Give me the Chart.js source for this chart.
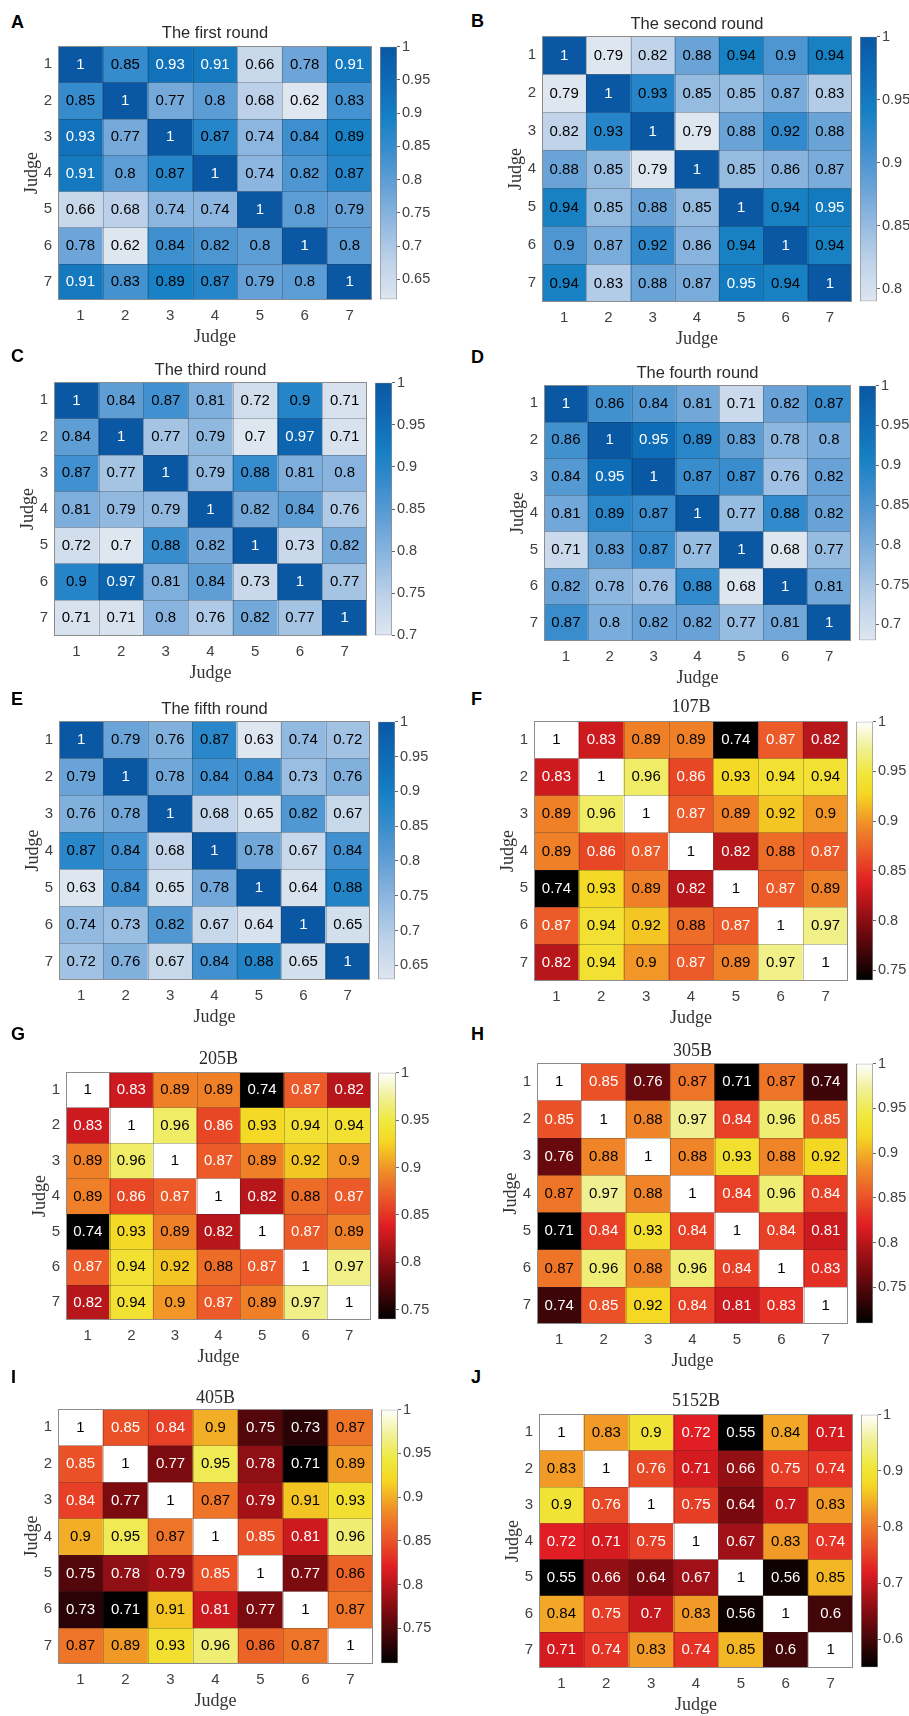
<!DOCTYPE html>
<html><head><meta charset="utf-8">
<script src="https://cdn.jsdelivr.net/npm/chart.js@4.4.1/dist/chart.umd.min.js"></script>
<style>
html,body{margin:0;padding:0;background:#fff;}
#page{position:relative;width:909px;height:1716px;overflow:hidden;background:#fff;}
#page canvas{position:absolute;}
.lbl{position:absolute;font:bold 18px "Liberation Sans",Arial,sans-serif;line-height:18px;color:#000;}
</style></head><body><div id="page"></div>
<script>
// ---------------- data ----------------
const judges = ['1','2','3','4','5','6','7'];

const round1 = [
  [1,0.85,0.93,0.91,0.66,0.78,0.91],
  [0.85,1,0.77,0.8,0.68,0.62,0.83],
  [0.93,0.77,1,0.87,0.74,0.84,0.89],
  [0.91,0.8,0.87,1,0.74,0.82,0.87],
  [0.66,0.68,0.74,0.74,1,0.8,0.79],
  [0.78,0.62,0.84,0.82,0.8,1,0.8],
  [0.91,0.83,0.89,0.87,0.79,0.8,1]
];
const round2 = [
  [1,0.79,0.82,0.88,0.94,0.9,0.94],
  [0.79,1,0.93,0.85,0.85,0.87,0.83],
  [0.82,0.93,1,0.79,0.88,0.92,0.88],
  [0.88,0.85,0.79,1,0.85,0.86,0.87],
  [0.94,0.85,0.88,0.85,1,0.94,0.95],
  [0.9,0.87,0.92,0.86,0.94,1,0.94],
  [0.94,0.83,0.88,0.87,0.95,0.94,1]
];
const round3 = [
  [1,0.84,0.87,0.81,0.72,0.9,0.71],
  [0.84,1,0.77,0.79,0.7,0.97,0.71],
  [0.87,0.77,1,0.79,0.88,0.81,0.8],
  [0.81,0.79,0.79,1,0.82,0.84,0.76],
  [0.72,0.7,0.88,0.82,1,0.73,0.82],
  [0.9,0.97,0.81,0.84,0.73,1,0.77],
  [0.71,0.71,0.8,0.76,0.82,0.77,1]
];
const round4 = [
  [1,0.86,0.84,0.81,0.71,0.82,0.87],
  [0.86,1,0.95,0.89,0.83,0.78,0.8],
  [0.84,0.95,1,0.87,0.87,0.76,0.82],
  [0.81,0.89,0.87,1,0.77,0.88,0.82],
  [0.71,0.83,0.87,0.77,1,0.68,0.77],
  [0.82,0.78,0.76,0.88,0.68,1,0.81],
  [0.87,0.8,0.82,0.82,0.77,0.81,1]
];
const round5 = [
  [1,0.79,0.76,0.87,0.63,0.74,0.72],
  [0.79,1,0.78,0.84,0.84,0.73,0.76],
  [0.76,0.78,1,0.68,0.65,0.82,0.67],
  [0.87,0.84,0.68,1,0.78,0.67,0.84],
  [0.63,0.84,0.65,0.78,1,0.64,0.88],
  [0.74,0.73,0.82,0.67,0.64,1,0.65],
  [0.72,0.76,0.67,0.84,0.88,0.65,1]
];
const s107B = [
  [1,0.83,0.89,0.89,0.74,0.87,0.82],
  [0.83,1,0.96,0.86,0.93,0.94,0.94],
  [0.89,0.96,1,0.87,0.89,0.92,0.9],
  [0.89,0.86,0.87,1,0.82,0.88,0.87],
  [0.74,0.93,0.89,0.82,1,0.87,0.89],
  [0.87,0.94,0.92,0.88,0.87,1,0.97],
  [0.82,0.94,0.9,0.87,0.89,0.97,1]
];
const s205B = [
  [1,0.83,0.89,0.89,0.74,0.87,0.82],
  [0.83,1,0.96,0.86,0.93,0.94,0.94],
  [0.89,0.96,1,0.87,0.89,0.92,0.9],
  [0.89,0.86,0.87,1,0.82,0.88,0.87],
  [0.74,0.93,0.89,0.82,1,0.87,0.89],
  [0.87,0.94,0.92,0.88,0.87,1,0.97],
  [0.82,0.94,0.9,0.87,0.89,0.97,1]
];
const s305B = [
  [1,0.85,0.76,0.87,0.71,0.87,0.74],
  [0.85,1,0.88,0.97,0.84,0.96,0.85],
  [0.76,0.88,1,0.88,0.93,0.88,0.92],
  [0.87,0.97,0.88,1,0.84,0.96,0.84],
  [0.71,0.84,0.93,0.84,1,0.84,0.81],
  [0.87,0.96,0.88,0.96,0.84,1,0.83],
  [0.74,0.85,0.92,0.84,0.81,0.83,1]
];
const s405B = [
  [1,0.85,0.84,0.9,0.75,0.73,0.87],
  [0.85,1,0.77,0.95,0.78,0.71,0.89],
  [0.84,0.77,1,0.87,0.79,0.91,0.93],
  [0.9,0.95,0.87,1,0.85,0.81,0.96],
  [0.75,0.78,0.79,0.85,1,0.77,0.86],
  [0.73,0.71,0.91,0.81,0.77,1,0.87],
  [0.87,0.89,0.93,0.96,0.86,0.87,1]
];
const s5152B = [
  [1,0.83,0.9,0.72,0.55,0.84,0.71],
  [0.83,1,0.76,0.71,0.66,0.75,0.74],
  [0.9,0.76,1,0.75,0.64,0.7,0.83],
  [0.72,0.71,0.75,1,0.67,0.83,0.74],
  [0.55,0.66,0.64,0.67,1,0.56,0.85],
  [0.84,0.75,0.7,0.83,0.56,1,0.6],
  [0.71,0.74,0.83,0.74,0.85,0.6,1]
];

const cbTicksFine = [0.6,0.65,0.7,0.75,0.8,0.85,0.9,0.95,1];
const cbTicksCoarse = [0.6,0.7,0.8,0.9,1];

// ---------------- colour maps ----------------
const blueStops = [[0,[222,230,240]],[0.15,[190,210,233]],[0.3,[145,185,224]],[0.45,[100,160,214]],
  [0.6,[55,140,205]],[0.72,[22,128,196]],[0.85,[15,108,182]],[1,[10,88,164]]];
const hotStops = [[0,[0,0,0]],[0.2,[120,10,15]],[0.38,[225,30,35]],[0.5,[235,90,40]],[0.6,[240,140,40]],
  [0.72,[245,215,35]],[0.8,[240,232,60]],[0.9,[240,240,150]],[1,[255,255,255]]];

function cmapRGB(stops, t){
  t = Math.max(0, Math.min(1, t));
  for (let i = 1; i < stops.length; i++){
    if (t <= stops[i][0]){
      const [t0,c0] = stops[i-1], [t1,c1] = stops[i];
      const f = (t - t0) / (t1 - t0);
      return c0.map((v,k)=>Math.round(v + (c1[k]-v)*f));
    }
  }
  return stops[stops.length-1][1];
}
const rgb = c => `rgb(${c[0]},${c[1]},${c[2]})`;
function textColor(kind, t){
  if (kind === 'blue') return t > 0.74 ? '#ffffff' : '#000000';
  return t < 0.51 ? '#ffffff' : '#000000';
}

// ---------------- layout (positions only) ----------------
const panels = [
  {letter:'A', title:'The first round',  data:round1, kind:'blue', ticks:cbTicksFine, L:58,  R:372, T:46,   B:300,  cL:380, cR:397, tY:33,   lx:11,  ly:12.6},
  {letter:'B', title:'The second round', data:round2, kind:'blue', ticks:cbTicksFine, L:542, R:852, T:36,   B:302,  cL:860, cR:877, tY:24,   lx:471, ly:11.6},
  {letter:'C', title:'The third round',  data:round3, kind:'blue', ticks:cbTicksFine, L:54,  R:367, T:382,  B:636,  cL:375, cR:392, tY:370,  lx:11,  ly:346.6},
  {letter:'D', title:'The fourth round', data:round4, kind:'blue', ticks:cbTicksFine, L:544, R:851, T:385,  B:641,  cL:859, cR:876, tY:373,  lx:471, ly:347.6},
  {letter:'E', title:'The fifth round',  data:round5, kind:'blue', ticks:cbTicksFine, L:59,  R:370, T:721,  B:980,  cL:378, cR:395, tY:709,  lx:11,  ly:689.6},
  {letter:'F', title:'107B',  data:s107B,  kind:'hot', ticks:cbTicksFine,   L:534, R:848, T:721,  B:981,  cL:856, cR:873, tY:707,  lx:471, ly:689.6},
  {letter:'G', title:'205B',  data:s205B,  kind:'hot', ticks:cbTicksFine,   L:66,  R:371, T:1072, B:1320, cL:378, cR:396, tY:1059, lx:11,  ly:1024.6},
  {letter:'H', title:'305B',  data:s305B,  kind:'hot', ticks:cbTicksFine,   L:537, R:848, T:1063, B:1324, cL:856, cR:873, tY:1051, lx:471, ly:1024.6},
  {letter:'I', title:'405B',  data:s405B,  kind:'hot', ticks:cbTicksFine,   L:58,  R:373, T:1409, B:1664, cL:381, cR:398, tY:1398, lx:11,  ly:1367.6},
  {letter:'J', title:'5152B', data:s5152B, kind:'hot', ticks:cbTicksCoarse, L:539, R:853, T:1414, B:1668, cL:861, cR:878, tY:1401, lx:471, ly:1367.6}
];

const page = document.getElementById('page');
const SANS = '"Liberation Sans", Arial, sans-serif';
const SERIF = '"Liberation Serif", "Times New Roman", serif';
const TICKCOL = '#404040';

function addCanvas(left, top, w, h){
  const c = document.createElement('canvas');
  c.width = w; c.height = h;
  c.style.left = left + 'px'; c.style.top = top + 'px';
  c.style.width = w + 'px'; c.style.height = h + 'px';
  page.appendChild(c);
  return c;
}

panels.forEach(p => {
  const stops = p.kind === 'blue' ? blueStops : hotStops;
  const flat = p.data.flat();
  const mn = Math.min(...flat), mx = Math.max(...flat);
  const tOf = v => (v - mn) / (mx - mn);

  // panel letter
  const d = document.createElement('div');
  d.className = 'lbl'; d.textContent = p.letter;
  d.style.left = p.lx + 'px'; d.style.top = p.ly + 'px';
  page.appendChild(d);

  // ---------- heatmap ----------
  const cx = p.L - 50, cy = p.T - 30;
  const hc = addCanvas(cx, cy, (p.R - p.L) + 55, (p.B - p.T) + 80);
  const datasets = p.data.map((row, r) => ({
    data: row.map(() => [r + 0.5, r + 1.5]),
    values: row,
    backgroundColor: row.map(v => rgb(cmapRGB(stops, tOf(v)))),
    grouped: false, barPercentage: 1, categoryPercentage: 1, borderWidth: 0
  }));
  const titleFont = p.kind === 'blue' ? `16.5px ${SANS}` : `18px ${SERIF}`;

  new Chart(hc, {
    type: 'bar',
    data: { labels: judges, datasets },
    options: {
      responsive: false, animation: false, devicePixelRatio: 1,
      layout: { padding: { top: 30, left: 0, right: 5, bottom: 0 } },
      plugins: { legend: { display: false }, tooltip: { enabled: false }, title: { display: false } },
      scales: {
        x: {
          type: 'category',
          grid: { display: false, drawTicks: false }, border: { display: false },
          ticks: { padding: 7, color: TICKCOL, font: { family: SANS, size: 15 }, maxRotation: 0, autoSkip: false },
          title: { display: true, text: 'Judge', color: '#333', font: { family: SERIF, size: 18, lineHeight: 1 }, padding: { top: 0, bottom: 4 } },
          afterFit(s) { s.height = 50; }
        },
        y: {
          type: 'linear', min: 0.5, max: 7.5, reverse: true,
          afterBuildTicks(s) { s.ticks = judges.map((j, i) => ({ value: i + 1 })); },
          grid: { display: false, drawTicks: false }, border: { display: false },
          ticks: { padding: 6, color: TICKCOL, font: { family: SANS, size: 15 }, callback: v => judges[Math.round(v) - 1] },
          title: { display: true, text: 'Judge', color: '#333', font: { family: SERIF, size: 18, lineHeight: 1 }, padding: { top: 15, bottom: 0 } },
          afterFit(s) { s.width = 50; }
        }
      }
    },
    plugins: [{
      id: 'cells',
      afterDatasetsDraw(chart) {
        const ctx = chart.ctx, ca = chart.chartArea;
        const xs = chart.scales.x, ys = chart.scales.y;
        const half = (xs.getPixelForValue(1) - xs.getPixelForValue(0)) / 2;
        ctx.save();
        ctx.lineWidth = 1;
        ctx.strokeStyle = 'rgba(40,40,40,0.28)';
        ctx.beginPath();
        for (let i = 1; i < judges.length; i++) {
          const x = Math.round(xs.getPixelForValue(i) - half) + 0.5;
          ctx.moveTo(x, ca.top); ctx.lineTo(x, ca.bottom);
          const y = Math.round(ys.getPixelForValue(i + 0.5)) + 0.5;
          ctx.moveTo(ca.left, y); ctx.lineTo(ca.right, y);
        }
        ctx.stroke();
        ctx.strokeStyle = '#8c8c8c';
        ctx.strokeRect(Math.round(ca.left) + 0.5, Math.round(ca.top) + 0.5, Math.round(ca.right - ca.left) - 1, Math.round(ca.bottom - ca.top) - 1);
        // values
        ctx.font = `15px ${SANS}`;
        ctx.textAlign = 'center'; ctx.textBaseline = 'middle';
        chart.data.datasets.forEach((ds, di) => {
          chart.getDatasetMeta(di).data.forEach((el, ci) => {
            const v = ds.values[ci];
            ctx.fillStyle = textColor(p.kind, tOf(v));
            ctx.fillText(String(v), el.x, (el.y + el.base) / 2 + 0.5);
          });
        });
        ctx.restore();
      },
      afterDraw(chart) {
        const ctx = chart.ctx, ca = chart.chartArea;
        ctx.save();
        ctx.font = titleFont; ctx.fillStyle = '#2a2a2a';
        ctx.textAlign = 'center'; ctx.textBaseline = 'middle';
        ctx.fillText(p.title, (ca.left + ca.right) / 2, p.tY - cy);
        ctx.restore();
      }
    }]
  });

  // ---------- colour bar ----------
  const bc = addCanvas(p.cL - 1, p.T - 10, (p.cR - p.cL) + 1 + 45, (p.B - p.T) + 20);
  new Chart(bc, {
    type: 'bar',
    data: {
      labels: [''],
      datasets: [{
        data: [[mn, mx]],
        barPercentage: 1, categoryPercentage: 1,
        borderWidth: 1, borderColor: '#8c8c8c', borderSkipped: false,
        backgroundColor(c) {
          const ca = c.chart.chartArea;
          if (!ca) return 'rgba(0,0,0,0)';
          const g = c.chart.ctx.createLinearGradient(0, ca.bottom, 0, ca.top);
          stops.forEach(s => g.addColorStop(s[0], rgb(s[1])));
          return g;
        }
      }]
    },
    options: {
      responsive: false, animation: false, devicePixelRatio: 1,
      layout: { padding: { top: 10, left: 1, right: 0, bottom: 10 } },
      plugins: { legend: { display: false }, tooltip: { enabled: false } },
      scales: {
        x: { display: false },
        y: {
          type: 'linear', position: 'right', min: mn, max: mx,
          afterBuildTicks(s) { s.ticks = p.ticks.filter(v => v >= mn - 1e-9 && v <= mx + 1e-9).map(v => ({ value: v })); },
          grid: { display: true, drawOnChartArea: false, drawTicks: true, tickLength: 3, color: '#666' },
          border: { display: false },
          ticks: { padding: 2, color: TICKCOL, font: { family: SANS, size: 14.5 }, callback: v => String(+(+v).toFixed(2)) },
          afterFit(s) { s.width = 45; }
        }
      }
    }
  });
});
</script>
</body></html>
